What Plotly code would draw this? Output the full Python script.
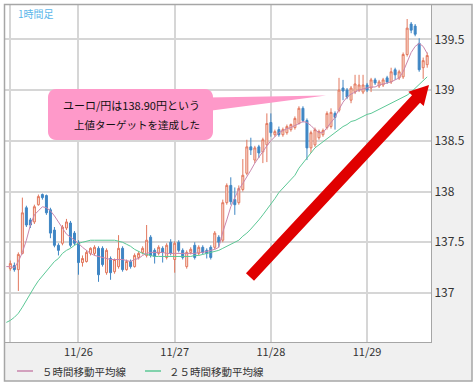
import math
import pandas as pd
import plotly.graph_objects as go

# ---------------- data ----------------
first_candle = "2013-11-25 07:00"
n_candles = 105
ma_start = "2013-11-25 06:00"

opens = [137.24, 137.27, 137.23, 137.39, 137.84, 137.72, 137.70, 137.87, 137.97, 137.96,
         137.82, 137.62, 137.47, 137.49, 137.64, 137.69, 137.59, 137.50, 137.30, 137.31,
         137.39, 137.39, 137.44, 137.44, 137.20, 137.34, 137.21, 137.26, 137.44, 137.23,
         137.31, 137.26, 137.35, 137.40, 137.37, 137.55, 137.42, 137.39, 137.44, 137.35,
         137.50, 137.33, 137.50, 137.42, 137.26, 137.40, 137.47, 137.39, 137.45, 137.42,
         137.45, 137.45, 137.55, 137.52, 137.89, 138.06, 137.92, 137.89, 138.02, 138.18,
         138.44, 138.31, 138.44, 138.39, 138.46, 138.68, 138.56, 138.61, 138.56, 138.58,
         138.61, 138.63, 138.67, 138.82, 138.70, 138.43, 138.46, 138.53, 138.56, 138.63,
         138.64, 138.77, 138.80, 139.02, 139.00, 138.90, 138.98, 139.00, 138.98, 139.05,
         139.02, 139.10, 139.04, 139.05, 139.12, 139.08, 139.20, 139.12, 139.13, 139.35,
         139.65, 139.63, 139.46, 139.22, 139.25]
closes = [137.29, 137.23, 137.38, 137.79, 137.67, 137.67, 137.85, 137.95, 137.94, 137.79,
          137.59, 137.47, 137.42, 137.65, 137.70, 137.47, 137.49, 137.30, 137.34, 137.40,
          137.44, 137.45, 137.18, 137.28, 137.42, 137.20, 137.33, 137.44, 137.23, 137.31,
          137.26, 137.37, 137.39, 137.44, 137.52, 137.37, 137.36, 137.45, 137.40, 137.47,
          137.39, 137.49, 137.42, 137.35, 137.40, 137.43, 137.35, 137.45, 137.40, 137.39,
          137.35, 137.59, 137.50, 137.89, 138.06, 137.90, 137.87, 138.03, 138.16, 138.44,
          138.41, 138.43, 138.38, 138.51, 138.67, 138.58, 138.59, 138.56, 138.61, 138.64,
          138.66, 138.72, 138.82, 138.70, 138.43, 138.58, 138.61, 138.59, 138.60, 138.77,
          138.78, 138.73, 139.00, 138.99, 138.93, 139.02, 139.06, 139.05, 139.05, 139.00,
          139.10, 139.07, 139.08, 139.10, 139.08, 139.18, 139.15, 139.18, 139.35, 139.61,
          139.59, 139.55, 139.20, 139.29, 139.34]
highs = [137.32, 137.30, 137.40, 137.94, 137.86, 137.74, 137.87, 137.97, 137.98, 137.97,
         137.84, 137.65, 137.49, 137.67, 137.73, 137.71, 137.61, 137.52, 137.37, 137.42,
         137.45, 137.47, 137.46, 137.46, 137.44, 137.36, 137.34, 137.57, 137.46, 137.33,
         137.33, 137.39, 137.41, 137.46, 137.67, 137.57, 137.44, 137.47, 137.46, 137.49,
         137.53, 137.51, 137.52, 137.44, 137.42, 137.45, 137.50, 137.47, 137.47, 137.44,
         137.47, 137.61, 137.57, 137.92, 138.08, 138.14, 138.04, 138.06, 138.32, 138.51,
         138.53, 138.45, 138.46, 138.53, 138.77, 138.77, 138.61, 138.64, 138.63, 138.66,
         138.67, 138.74, 138.84, 138.84, 138.72, 138.60, 138.63, 138.61, 138.62, 138.79,
         138.82, 138.79, 139.12, 139.10, 139.02, 139.04, 139.15, 139.15, 139.15, 139.07,
         139.12, 139.12, 139.10, 139.12, 139.14, 139.22, 139.22, 139.20, 139.37, 139.70,
         139.67, 139.65, 139.51, 139.32, 139.37]
lows = [137.22, 137.21, 137.02, 137.38, 137.65, 137.64, 137.68, 137.86, 137.92, 137.77,
        137.54, 137.45, 137.37, 137.47, 137.62, 137.45, 137.47, 137.18, 137.26, 137.30,
        137.37, 137.37, 137.11, 137.26, 137.18, 137.13, 137.19, 137.24, 137.21, 137.22,
        137.24, 137.25, 137.33, 137.38, 137.35, 137.35, 137.29, 137.37, 137.30, 137.33,
        137.37, 137.20, 137.40, 137.33, 137.24, 137.38, 137.33, 137.37, 137.38, 137.34,
        137.33, 137.43, 137.45, 137.50, 137.87, 137.87, 137.77, 137.87, 138.00, 138.16,
        138.36, 138.28, 138.33, 138.28, 138.29, 138.54, 138.54, 138.54, 138.54, 138.56,
        138.59, 138.61, 138.66, 138.68, 138.31, 138.38, 138.44, 138.51, 138.54, 138.61,
        138.62, 138.61, 138.78, 138.90, 138.91, 138.87, 138.96, 138.98, 138.96, 138.98,
        138.98, 139.05, 139.02, 139.03, 139.06, 139.06, 139.10, 139.10, 139.11, 139.33,
        139.56, 139.53, 139.18, 139.11, 139.22]

ma5 = [137.26, 137.26, 137.25, 137.31, 137.40, 137.52, 137.67, 137.77, 137.81, 137.85, 137.84,
       137.81, 137.76, 137.70, 137.63, 137.58, 137.55, 137.52, 137.49, 137.45, 137.42,
       137.39, 137.37, 137.36, 137.35, 137.34, 137.33, 137.33, 137.33, 137.33, 137.32,
       137.31, 137.33, 137.34, 137.37, 137.39, 137.40, 137.40, 137.40, 137.40, 137.39,
       137.39, 137.39, 137.39, 137.39, 137.39, 137.39, 137.39, 137.40, 137.40, 137.41,
       137.42, 137.43, 137.45, 137.60, 137.72, 137.85, 137.94, 138.02, 138.08, 138.14,
       138.21, 138.28, 138.34, 138.39, 138.45, 138.50, 138.54, 138.58, 138.60, 138.62,
       138.63, 138.65, 138.67, 138.69, 138.68, 138.65, 138.61, 138.58, 138.58, 138.63,
       138.67, 138.73, 138.81, 138.88, 138.93, 138.96, 138.98, 139.00, 139.01, 139.02,
       139.03, 139.03, 139.05, 139.06, 139.07, 139.08, 139.10, 139.12, 139.18, 139.28,
       139.37, 139.43, 139.46, 139.43, 139.36]
ma25 = [136.71, 136.73, 136.76, 136.80, 136.86, 136.93, 137.00, 137.06, 137.12, 137.17, 137.22,
        137.27, 137.31, 137.34, 137.39, 137.42, 137.44, 137.47, 137.49, 137.50, 137.51,
        137.52, 137.52, 137.52, 137.52, 137.52, 137.52, 137.52, 137.51, 137.50, 137.48,
        137.46, 137.43, 137.41, 137.39, 137.38, 137.37, 137.36, 137.36, 137.36, 137.36,
        137.36, 137.36, 137.36, 137.36, 137.36, 137.36, 137.37, 137.37, 137.38, 137.39,
        137.40, 137.41, 137.42, 137.44, 137.46, 137.48, 137.50, 137.52, 137.56, 137.59,
        137.63, 137.67, 137.72, 137.77, 137.82, 137.87, 137.93, 137.99, 138.03, 138.08,
        138.12, 138.16, 138.23, 138.28, 138.34, 138.39, 138.43, 138.46, 138.49, 138.52,
        138.55, 138.58, 138.61, 138.64, 138.66, 138.69, 138.70, 138.72, 138.74, 138.76,
        138.77, 138.79, 138.81, 138.83, 138.85, 138.87, 138.89, 138.91, 138.93, 138.95,
        138.98, 139.02, 139.05, 139.09, 139.13]

x_tick_vals = ["2013-11-25 07:00", "2013-11-26", "2013-11-27", "2013-11-28", "2013-11-29"]
x_tick_text = ["", "11/26", "11/27", "11/28", "11/29"]
y_tick_vals = [137, 137.5, 138, 138.5, 139, 139.5]
y_tick_text = ["137", "137.5", "138", "138.5", "139", "139.5"]

title_label = "1時間足"
note_lines = ["ユーロ/円は138.90円という", "上値ターゲットを達成した"]
legend_names = ["５時間移動平均線", "２５時間移動平均線"]

# ---------------- figure ----------------
times = pd.date_range(first_candle, periods=n_candles, freq="h")
ma_times = pd.date_range(ma_start, periods=len(ma5), freq="h")

UP_LINE = "#e2785e"
UP_FILL = "#fbe2d8"
DN_COL = "#3f86c4"
MA5_COL = "#c986ad"
MA25_COL = "#5cc896"
FONT = "Noto Sans CJK JP"

fig = go.Figure()
fig.add_trace(go.Candlestick(
    x=times, open=opens, high=highs, low=lows, close=closes,
    increasing=dict(line=dict(color=UP_LINE, width=1), fillcolor=UP_FILL),
    decreasing=dict(line=dict(color=DN_COL, width=1), fillcolor=DN_COL),
    whiskerwidth=0, showlegend=False, hoverinfo="skip"))
fig.add_trace(go.Scatter(x=ma_times, y=ma25, mode="lines", line=dict(color=MA25_COL, width=1),
                         showlegend=False, hoverinfo="skip"))
fig.add_trace(go.Scatter(x=ma_times, y=ma5, mode="lines", line=dict(color=MA5_COL, width=1),
                         showlegend=False, hoverinfo="skip"))

W, H = 474, 387
L, R, T, B = 5, 431, 5, 342


def px(x):
    return (x - L) / (R - L)


def py(y):
    return (B - y) / (B - T)


def path_from(points, close=True):
    s = "M " + " L ".join(f"{px(a):.5f},{py(b):.5f}" for a, b in points)
    return s + (" Z" if close else "")


shapes = []
# outer grey panel with a hole for the plot area
outer = [(4.5, 4.5), (472, 4.5), (472, 381), (4.5, 381)]
inner = [(L, T), (R, T), (R, B), (L, B)]
shapes.append(dict(type="path", xref="paper", yref="paper", layer="below",
                   path=path_from(outer) + " " + path_from(inner), fillrule="evenodd",
                   fillcolor="#f0f0f0", line=dict(width=0)))
shapes.append(dict(type="rect", xref="paper", yref="paper", layer="above",
                   x0=px(4.5), x1=px(472), y0=py(381), y1=py(4.5),
                   fillcolor="rgba(0,0,0,0)", line=dict(color="#a6a6a6", width=1.5)))

# callout bubble (rounded rectangle + tail)
x0, x1, y0, y1, r = 48, 213, 89, 140, 8
pts = []
for cx, cy, a0 in [(x1 - r, y0 + r, -90), (x1 - r, y1 - r, 0), (x0 + r, y1 - r, 90), (x0 + r, y0 + r, 180)]:
    for i in range(7):
        a = math.radians(a0 + i * 15)
        pts.append((cx + r * math.cos(a), cy + r * math.sin(a)))
PINK = "#fe99c9"
shapes.append(dict(type="path", xref="paper", yref="paper", layer="above",
                   path=path_from(pts), fillcolor=PINK, line=dict(width=0)))
shapes.append(dict(type="path", xref="paper", yref="paper", layer="above",
                   path=path_from([(208, 97.5), (326, 95.5), (208, 111)]),
                   fillcolor=PINK, line=dict(width=0)))

# red arrow
sx, sy, tx, ty = 250, 277, 429, 85
dx, dy = tx - sx, ty - sy
ln = math.hypot(dx, dy)
ux, uy = dx / ln, dy / ln
nx, ny = -uy, ux
hl, hw, sw = 19, 10.5, 5.5
bx, by = tx - hl * ux, ty - hl * uy
arrow = [(sx + sw * nx, sy + sw * ny), (bx + sw * nx, by + sw * ny), (bx + hw * nx, by + hw * ny),
         (tx, ty), (bx - hw * nx, by - hw * ny), (bx - sw * nx, by - sw * ny),
         (sx - sw * nx, sy - sw * ny)]
shapes.append(dict(type="path", xref="paper", yref="paper", layer="above",
                   path=path_from(arrow), fillcolor="#e00000", line=dict(width=0)))

# legend lines
shapes.append(dict(type="line", xref="paper", yref="paper", x0=px(17), x1=px(33), y0=py(371), y1=py(371),
                   line=dict(color=MA5_COL, width=1.5)))
shapes.append(dict(type="line", xref="paper", yref="paper", x0=px(145), x1=px(161), y0=py(371), y1=py(371),
                   line=dict(color=MA25_COL, width=1.5)))

annotations = [
    dict(x=px(16), y=py(13), xref="paper", yref="paper", text=title_label, showarrow=False,
         xanchor="left", yanchor="middle", font=dict(family=FONT, size=10, color="#5ab6ea")),
    dict(x=px(131), y=py(105), xref="paper", yref="paper", text=note_lines[0], showarrow=False,
         xanchor="center", yanchor="middle", font=dict(family=FONT, size=11, color="#111111")),
    dict(x=px(137), y=py(124), xref="paper", yref="paper", text=note_lines[1], showarrow=False,
         xanchor="center", yanchor="middle", font=dict(family=FONT, size=10.5, color="#111111")),
    dict(x=px(40), y=py(371), xref="paper", yref="paper", text=legend_names[0], showarrow=False,
         xanchor="left", yanchor="middle", font=dict(family=FONT, size=10.5, color="#333333")),
    dict(x=px(167), y=py(371), xref="paper", yref="paper", text=legend_names[1], showarrow=False,
         xanchor="left", yanchor="middle", font=dict(family=FONT, size=10.5, color="#333333")),
]

GRID = "#d6d6d6"
fig.update_layout(
    width=W, height=H,
    margin=dict(l=L, r=W - R, t=T, b=H - B, pad=0),
    paper_bgcolor="white", plot_bgcolor="white",
    shapes=shapes, annotations=annotations,
    xaxis=dict(type="date", range=["2013-11-25 05:40", "2013-11-29 15:57"],
               tickmode="array", tickvals=x_tick_vals, ticktext=x_tick_text,
               showgrid=True, gridcolor=GRID, gridwidth=2, ticks="", zeroline=False,
               showline=True, linecolor="#a6a6a6", linewidth=1, mirror=True,
               rangeslider=dict(visible=False), fixedrange=True, layer="below traces",
               tickfont=dict(family=FONT, size=11, color="#333333")),
    yaxis=dict(range=[136.517, 139.838], side="right", tickmode="array",
               tickvals=y_tick_vals, ticktext=y_tick_text,
               showgrid=True, gridcolor=GRID, gridwidth=2, ticks="", zeroline=False,
               showline=True, linecolor="#a6a6a6", linewidth=1, mirror=True, fixedrange=True,
               layer="below traces",
               tickfont=dict(family=FONT, size=12, color="#333333")),
    showlegend=False,
)

fig.write_html("out.html", config={"displayModeBar": False},
               post_script="document.body.style.margin='0';")
